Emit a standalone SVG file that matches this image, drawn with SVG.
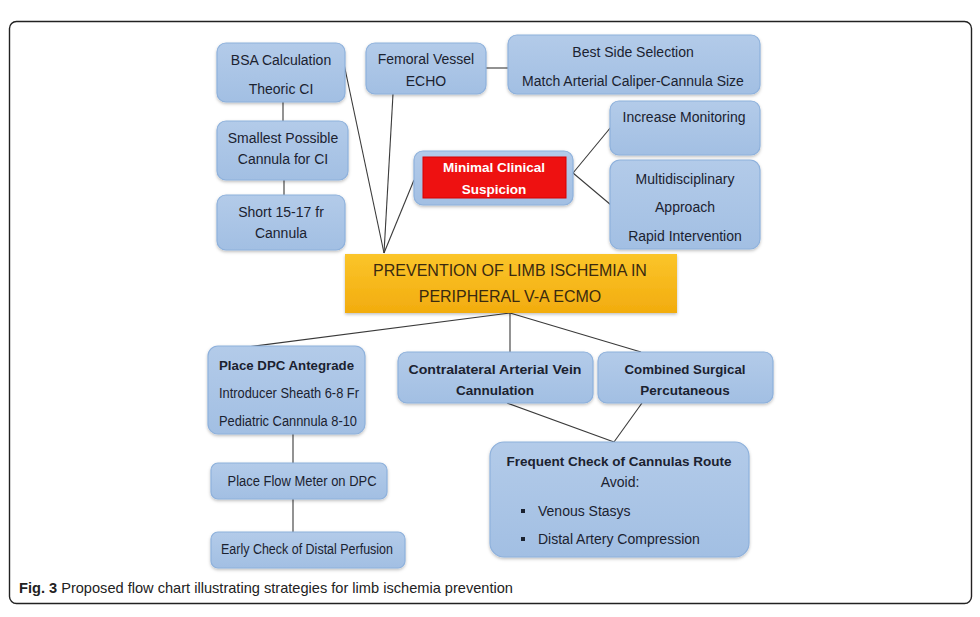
<svg xmlns="http://www.w3.org/2000/svg" width="980" height="617" viewBox="0 0 980 617">
<defs>
<linearGradient id="blue" x1="0" y1="0" x2="0" y2="1">
<stop offset="0" stop-color="#b3cbe9"/>
<stop offset="1" stop-color="#a2bfe3"/>
</linearGradient>
<linearGradient id="gold" x1="0" y1="0" x2="0" y2="1">
<stop offset="0" stop-color="#fbc52a"/>
<stop offset="1" stop-color="#f2ac0e"/>
</linearGradient>
<filter id="sh" x="-10%" y="-10%" width="120%" height="130%">
<feDropShadow dx="0" dy="1.5" stdDeviation="1.5" flood-color="#000" flood-opacity="0.25"/>
</filter>
</defs>
<style>
.n{fill:url(#blue);stroke:#8eb1dc;stroke-width:1.2;filter:url(#sh)}
.t{font-family:"Liberation Sans",Arial,sans-serif;font-size:14px;fill:#1b2230;text-anchor:middle}
.b{font-weight:bold;font-size:13.5px}
.c{stroke:#3a3a3a;stroke-width:1.1;fill:none}
</style>
<rect x="0" y="0" width="980" height="617" fill="#ffffff"/>
<rect x="9.5" y="21.5" width="962" height="582" rx="7" fill="#ffffff" stroke="#222" stroke-width="1.4"/>

<g id="connectors">
<line class="c" x1="344" y1="64" x2="384" y2="253"/>
<line class="c" x1="393" y1="94" x2="384" y2="253"/>
<line class="c" x1="414" y1="180" x2="384" y2="253"/>
<line class="c" x1="283" y1="102" x2="283" y2="121"/>
<line class="c" x1="284" y1="180" x2="284" y2="195"/>
<line class="c" x1="486" y1="68" x2="508" y2="68"/>
<line class="c" x1="573" y1="173" x2="611" y2="127"/>
<line class="c" x1="573" y1="173" x2="611" y2="205"/>
<line class="c" x1="510" y1="313" x2="247" y2="347"/>
<line class="c" x1="510" y1="313" x2="510" y2="352"/>
<line class="c" x1="510" y1="313" x2="641" y2="352"/>
<line class="c" x1="507" y1="403" x2="614" y2="442"/>
<line class="c" x1="642" y1="403" x2="614" y2="442"/>
<line class="c" x1="293" y1="434" x2="293" y2="463"/>
<line class="c" x1="293" y1="499" x2="293" y2="532"/>
</g>

<g id="bsa">
<rect class="n" x="217" y="43" width="128" height="59" rx="9"/>
<text class="t" x="281" y="65">BSA Calculation</text>
<text class="t" x="281" y="94">Theoric CI</text>
</g>
<g id="smallest">
<rect class="n" x="217" y="121" width="131" height="59" rx="9"/>
<text class="t" x="283" y="143">Smallest Possible</text>
<text class="t" x="283" y="164">Cannula for CI</text>
</g>
<g id="short">
<rect class="n" x="217" y="195" width="128" height="55" rx="9"/>
<text class="t" x="281" y="217">Short 15-17 fr</text>
<text class="t" x="281" y="238">Cannula</text>
</g>
<g id="femoral">
<rect class="n" x="366" y="43" width="120" height="51" rx="9"/>
<text class="t" x="426" y="64">Femoral Vessel</text>
<text class="t" x="426" y="86">ECHO</text>
</g>
<g id="bestside">
<rect class="n" x="508" y="35" width="252" height="59" rx="9"/>
<text class="t" x="633" y="57">Best Side Selection</text>
<text class="t" x="633" y="86">Match Arterial Caliper-Cannula Size</text>
</g>
<g id="increase">
<rect class="n" x="610" y="101" width="150" height="54" rx="9"/>
<text class="t" x="684" y="122">Increase Monitoring</text>
</g>
<g id="multi">
<rect class="n" x="610" y="160" width="150" height="89" rx="10"/>
<text class="t" x="685" y="184">Multidisciplinary</text>
<text class="t" x="685" y="212">Approach</text>
<text class="t" x="685" y="241">Rapid Intervention</text>
</g>
<g id="minimal">
<rect class="n" x="414" y="151" width="159" height="54" rx="9"/>
<rect x="423" y="157" width="143" height="41" fill="#ee1111" stroke="#d60000" stroke-width="1"/>
<text class="t b" x="494" y="172" style="fill:#ffffff">Minimal Clinical</text>
<text class="t b" x="494" y="194" style="fill:#ffffff">Suspicion</text>
</g>
<g id="central">
<rect x="345" y="254" width="332" height="59" fill="url(#gold)" filter="url(#sh)"/>
<text class="t" x="510" y="276" style="font-size:16px;fill:#3a2a10">PREVENTION OF LIMB ISCHEMIA IN</text>
<text class="t" x="510" y="302" style="font-size:16px;fill:#3a2a10">PERIPHERAL V-A ECMO</text>
</g>
<g id="dpc">
<rect class="n" x="208" y="346" width="157" height="88" rx="10"/>
<text class="t b" x="219" y="370" style="text-anchor:start" textLength="135" lengthAdjust="spacingAndGlyphs">Place DPC Antegrade</text>
<text class="t" x="219" y="398" style="text-anchor:start" textLength="140" lengthAdjust="spacingAndGlyphs">Introducer Sheath 6-8 Fr</text>
<text class="t" x="219" y="426" style="text-anchor:start" textLength="138" lengthAdjust="spacingAndGlyphs">Pediatric Cannnula 8-10</text>
</g>
<g id="contra">
<rect class="n" x="398" y="352" width="195" height="51" rx="9"/>
<text class="t b" x="495" y="374" textLength="173" lengthAdjust="spacingAndGlyphs">Contralateral Arterial Vein</text>
<text class="t b" x="495" y="395">Cannulation</text>
</g>
<g id="combined">
<rect class="n" x="598" y="352" width="175" height="51" rx="9"/>
<text class="t b" x="685" y="374" textLength="121" lengthAdjust="spacingAndGlyphs">Combined Surgical</text>
<text class="t b" x="685" y="395">Percutaneous</text>
</g>
<g id="frequent">
<rect class="n" x="490" y="442" width="259" height="115" rx="14"/>
<text class="t b" x="619" y="466">Frequent Check of Cannulas Route</text>
<text class="t" x="620" y="487">Avoid:</text>
<rect x="521" y="509" width="4" height="4" fill="#1b2230"/>
<text class="t" x="538" y="516" style="text-anchor:start">Venous Stasys</text>
<rect x="521" y="537" width="4" height="4" fill="#1b2230"/>
<text class="t" x="538" y="544" style="text-anchor:start">Distal Artery Compression</text>
</g>
<g id="flowmeter">
<rect class="n" x="211" y="463" width="176" height="36" rx="7"/>
<text class="t" x="302" y="486" textLength="149" lengthAdjust="spacingAndGlyphs">Place Flow Meter on DPC</text>
</g>
<g id="early">
<rect class="n" x="211" y="532" width="194" height="36" rx="7"/>
<text class="t" x="307" y="554" textLength="172" lengthAdjust="spacingAndGlyphs">Early Check of Distal  Perfusion</text>
</g>
<text x="19" y="593" style="font-family:'Liberation Sans',Arial,sans-serif;font-size:14.6px;fill:#222"><tspan font-weight="bold">Fig. 3</tspan> Proposed flow chart illustrating strategies for limb ischemia prevention</text>
</svg>
